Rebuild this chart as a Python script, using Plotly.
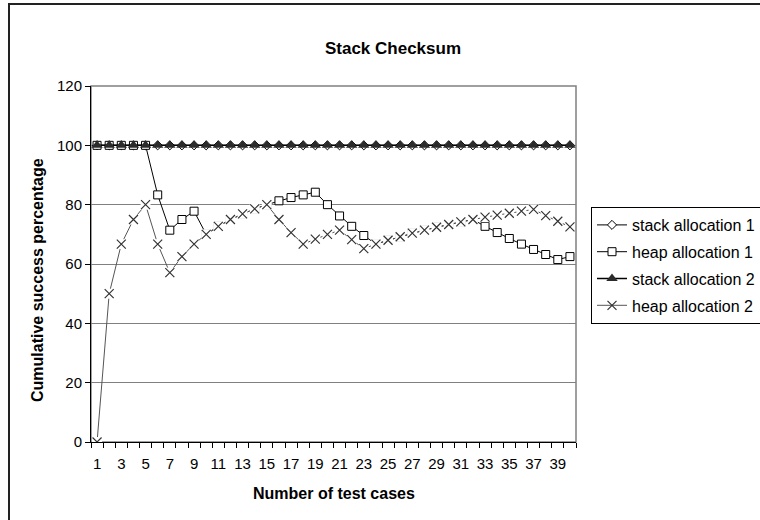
import plotly.graph_objects as go

# Test case index (category axis)
test_cases = list(range(1, 41))
x_tick_vals = [1, 3, 5, 7, 9, 11, 13, 15, 17, 19, 21, 23, 25, 27, 29, 31, 33, 35, 37, 39]
x_tick_text = [str(v) for v in x_tick_vals]
y_tick_vals = [0, 20, 40, 60, 80, 100, 120]

# Cumulative success percentage per series
stack_alloc_1 = [100, 100, 100, 100, 100, 100, 100, 100, 100, 100,
                 100, 100, 100, 100, 100, 100, 100, 100, 100, 100,
                 100, 100, 100, 100, 100, 100, 100, 100, 100, 100,
                 100, 100, 100, 100, 100, 100, 100, 100, 100, 100]
heap_alloc_1 = [100, 100, 100, 100, 100, 83.3, 71.4, 75.0, 77.8, 70.0,
                72.7, 75.0, 76.9, 78.6, 80.0, 81.3, 82.4, 83.3, 84.2, 80.0,
                76.2, 72.7, 69.6, 66.7, 68.0, 69.2, 70.4, 71.4, 72.4, 73.3,
                74.2, 75.0, 72.7, 70.6, 68.6, 66.7, 64.9, 63.2, 61.5, 62.5]
stack_alloc_2 = [100, 100, 100, 100, 100, 100, 100, 100, 100, 100,
                 100, 100, 100, 100, 100, 100, 100, 100, 100, 100,
                 100, 100, 100, 100, 100, 100, 100, 100, 100, 100,
                 100, 100, 100, 100, 100, 100, 100, 100, 100, 100]
heap_alloc_2 = [0, 50.0, 66.7, 75.0, 80.0, 66.7, 57.1, 62.5, 66.7, 70.0,
                72.7, 75.0, 76.9, 78.6, 80.0, 75.0, 70.6, 66.7, 68.4, 70.0,
                71.4, 68.2, 65.2, 66.7, 68.0, 69.2, 70.4, 71.4, 72.4, 73.3,
                74.2, 75.0, 75.8, 76.5, 77.1, 77.8, 78.4, 76.3, 74.4, 72.5]

FONT = "Liberation Sans, Arial, sans-serif"

# plot area in pixels: left 91, right 576, top 86, bottom 442
L, R, T, B = 91, 576, 86, 442
W, H = 760, 520


def px_x(p):
    return (p - L) / (R - L)


def px_y(p):
    return (B - p) / (B - T)


fig = go.Figure()

fig.add_trace(go.Scatter(
    x=test_cases, y=stack_alloc_1, name="stack allocation 1", legendgroup="a",
    mode="lines+markers", line=dict(color="black", width=1),
    marker=dict(symbol="diamond", size=7, color="white",
                line=dict(color="black", width=1)),
))
fig.add_trace(go.Scatter(
    x=test_cases, y=heap_alloc_1, name="heap allocation 1", legendgroup="b",
    mode="lines+markers", line=dict(color="black", width=1),
    marker=dict(symbol="square", size=8, color="white",
                line=dict(color="black", width=1)),
))
fig.add_trace(go.Scatter(
    x=test_cases, y=stack_alloc_2, name="stack allocation 2", legendgroup="c",
    mode="lines+markers", line=dict(color="black", width=1.5),
    marker=dict(symbol="triangle-up", size=10, color="#2b2b2b",
                line=dict(color="#2b2b2b", width=0)),
))

# heap allocation 2: the connecting line plus a white square backdrop behind
# each cross marker (covers whatever lies beneath the marker)
fig.add_trace(go.Scatter(
    x=test_cases, y=heap_alloc_2, legendgroup="d", showlegend=False,
    mode="lines+markers", line=dict(color="#555555", width=1),
    marker=dict(symbol="square", size=10, color="white",
                line=dict(width=0)),
    hoverinfo="skip",
))
# cross markers on top; gaps between points keep the line from redrawing
gap_x, gap_y = [], []
for xv, yv in zip(test_cases, heap_alloc_2):
    gap_x += [xv, None]
    gap_y += [yv, None]
fig.add_trace(go.Scatter(
    x=gap_x, y=gap_y, name="heap allocation 2", legendgroup="d",
    mode="lines+markers", connectgaps=False,
    line=dict(color="#555555", width=1),
    marker=dict(symbol="x-thin", size=9, color="#333333",
                line=dict(color="#333333", width=1.2)),
))

fig.update_layout(
    width=W, height=H,
    margin=dict(l=L, r=W - R, t=T, b=H - B, pad=0, autoexpand=False),
    paper_bgcolor="white", plot_bgcolor="white",
    font=dict(family=FONT, size=15, color="black"),
    title=dict(text="<b>Stack Checksum</b>", x=393 / W, xanchor="center",
               y=1 - 48 / H, yanchor="middle",
               font=dict(family=FONT, size=17, color="black")),
    showlegend=True,
    legend=dict(
        x=px_x(591), y=px_y(207), xanchor="left", yanchor="top",
        bordercolor="black", borderwidth=1, bgcolor="white",
        font=dict(family=FONT, size=16, color="black"),
        tracegroupgap=3, traceorder="grouped",
    ),
    xaxis=dict(
        range=[0.5, 40.5], tickmode="array", tickvals=x_tick_vals,
        ticktext=x_tick_text, ticks="", ticklabelstandoff=8,
        showgrid=False, zeroline=False, showline=True,
        linecolor="black", linewidth=1,
        tickfont=dict(family=FONT, size=15, color="black"),
        minor=dict(tickmode="array",
                   tickvals=[v - 0.5 for v in test_cases] + [40.5],
                   ticks="outside", ticklen=5, tickcolor="black",
                   tickwidth=1, showgrid=False),
    ),
    yaxis=dict(
        range=[0, 120], tickmode="array", tickvals=y_tick_vals,
        ticks="outside", ticklen=5, tickcolor="black",
        showgrid=True, gridcolor="#808080", gridwidth=1,
        zeroline=False, showline=True, linecolor="black", linewidth=1,
        tickfont=dict(family=FONT, size=15, color="black"),
    ),
    shapes=[
        # plot area frame
        dict(type="rect", xref="paper", yref="paper", x0=0, x1=1, y0=0, y1=1,
             line=dict(color="#808080", width=1.5), layer="below"),
        # outer chart frame
        dict(type="rect", xref="paper", yref="paper",
             x0=px_x(9), x1=px_x(790), y0=px_y(540), y1=px_y(4),
             line=dict(color="#222222", width=2), layer="below"),
    ],
    annotations=[
        dict(text="<b>Cumulative success percentage</b>", xref="paper",
             yref="paper", x=px_x(37), y=px_y(280), textangle=-90,
             showarrow=False, xanchor="center", yanchor="middle",
             font=dict(family=FONT, size=16, color="black")),
        dict(text="<b>Number of test cases</b>", xref="paper", yref="paper",
             x=px_x(334), y=px_y(493), showarrow=False,
             xanchor="center", yanchor="middle",
             font=dict(family=FONT, size=16, color="black")),
    ],
)

fig.write_html("out.html")
